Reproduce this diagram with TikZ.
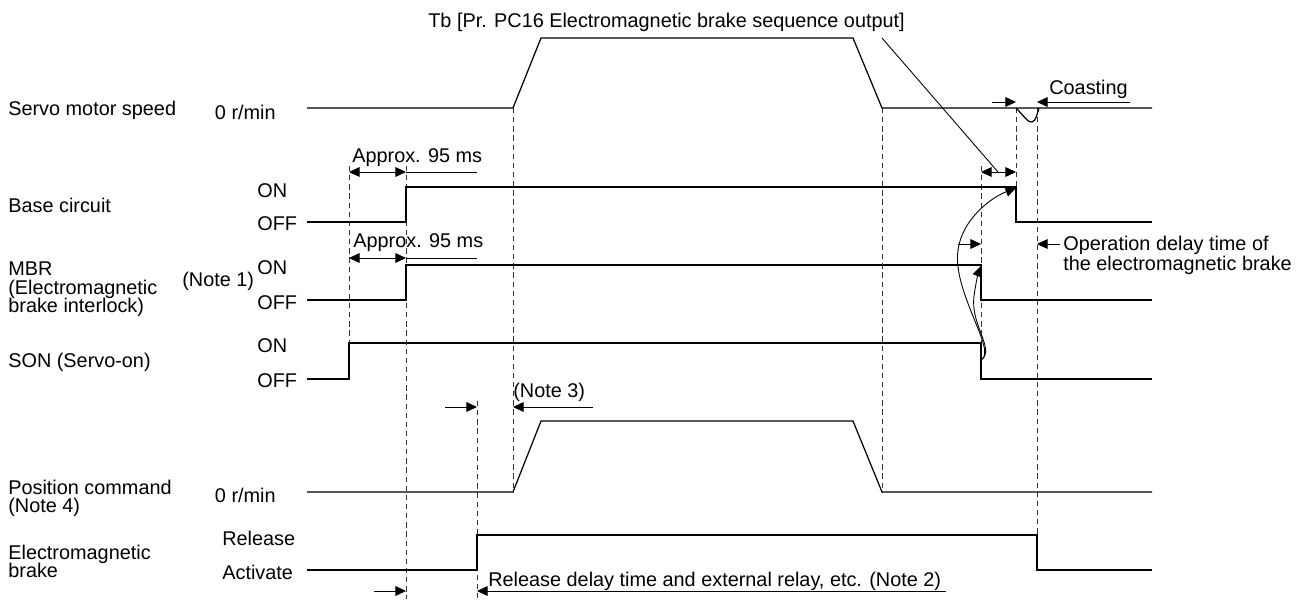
\documentclass[tikz,border=0pt]{standalone}
\usepackage{fontspec}
\setmainfont{Liberation Sans}
\usetikzlibrary{arrows.meta, positioning}

\begin{document}
\begin{tikzpicture}[
  x=0.02cm, y=-0.02cm,
  font=\fontsize{11.3}{12}\selectfont,
  lbl/.style={inner sep=0pt, anchor=base west},
  sig/.style={line width=0.7pt, line join=miter},
  guide/.style={line width=0.55pt, black!80, dash pattern=on 3pt off 2.2pt},
  dim/.style={line width=0.5pt, -{Triangle[length=6pt,width=5.5pt]}},
  dimboth/.style={line width=0.5pt,
    {Triangle[length=6pt,width=5.5pt]}-{Triangle[length=6pt,width=5.5pt]}}
]
  \useasboundingbox (0,0) rectangle (1306,599);

  % Row labels
  \node[lbl] (tb) at (428,27) {Tb [Pr. PC16 Electromagnetic brake sequence output]};
  \node[lbl] (speed) at (8,115) {Servo motor speed};
  \node[lbl, anchor=base east] (speed0) at (276,119) {0 r/min};
  \node[lbl] (base) at (8,212) {Base circuit};
  \node[lbl] (baseon) at (257,197) {ON};
  \node[lbl] (baseoff) at (257,230) {OFF};
  \node[lbl] (mbr1) at (8,275) {MBR};
  \node[lbl] (mbr2) at (8,294) {(Electromagnetic};
  \node[lbl] (mbr3) at (8,312) {brake interlock)};
  \node[lbl] (note1) at (182,286) {(Note 1)};
  \node[lbl] (mbron) at (257,274) {ON};
  \node[lbl] (mbroff) at (257,309) {OFF};
  \node[lbl] (son) at (8,367) {SON (Servo-on)};
  \node[lbl] (sonon) at (257,352) {ON};
  \node[lbl] (sonoff) at (257,387) {OFF};
  \node[lbl] (pos1) at (8,494) {Position command};
  \node[lbl] (pos2) at (8,512) {(Note 4)};
  \node[lbl, anchor=base east] (pos0) at (276,502) {0 r/min};
  \node[lbl] (brk1) at (8,559) {Electromagnetic};
  \node[lbl] (brk2) at (8,577) {brake};
  \node[lbl] (rel) at (222,545) {Release};
  \node[lbl] (act) at (222,579) {Activate};

  % Guide lines
  \draw[guide] (349,166) -- (349,343);
  \draw[guide] (406,166) -- (406,599);
  \draw[guide] (477,401) -- (477,599);
  \draw[guide] (513,108) -- (513,492);
  \draw[guide] (882,108) -- (882,492);
  \draw[guide] (981,166) -- (981,379);
  \draw[guide] (1016,108) -- (1016,187);
  \draw[guide] (1037,108) -- (1037,535);

  % Signals
  \draw[sig] (307,108) -- (513,108) -- (541,38) -- (853,38) -- (882,108) -- (1152,108);
  \draw[sig] (1016,108) .. controls (1024,116) and (1028,123) .. (1032,122)
    .. controls (1036,121) and (1037,114) .. (1039,108);
  \draw[sig] (307,222) -- (406,222) -- (406,187) -- (1016,187) -- (1016,222) -- (1152,222);
  \draw[sig] (307,300) -- (406,300) -- (406,265) -- (981,265) -- (981,300) -- (1152,300);
  \draw[sig] (307,379) -- (349,379) -- (349,343) -- (981,343) -- (981,379) -- (1152,379);
  \draw[sig] (307,492) -- (513,492) -- (541,421) -- (853,421) -- (882,492) -- (1152,492);
  \draw[sig] (307,570) -- (477,570) -- (477,535) -- (1037,535) -- (1037,570) -- (1152,570);

  % Time spans
  \node[lbl] (ap1) at (352,162) {Approx. 95 ms};
  \draw[dimboth] (349,172) -- (406,172);
  \draw[line width=0.5pt] (406,172) -- (477,172);
  \node[lbl] (ap2) at (353,247) {Approx. 95 ms};
  \draw[dimboth] (349,258) -- (406,258);
  \draw[line width=0.5pt] (406,258) -- (477,258);

  \draw[dimboth] (981,172) -- (1016,172);
  \draw[line width=0.5pt] (882,38) -- (998,172);

  \node[lbl] (coast) at (1049,94) {Coasting};
  \draw[dim] (992,102) -- (1016,102);
  \draw[dim] (1130,102) -- (1037,102);

  \node[lbl] (opd1) at (1063,250) {Operation delay time of};
  \node[lbl] (opd2) at (1063,270) {the electromagnetic brake};
  \draw[dim] (958,244) -- (981,244);
  \draw[dim] (1060,244) -- (1037,244);

  \node[lbl] (note3) at (513,397) {(Note 3)};
  \draw[dim] (445,407) -- (477,407);
  \draw[dim] (593,407) -- (513,407);

  \node[lbl] (reld) at (488,586) {Release delay time and external relay, etc. (Note 2)};
  \draw[dim] (374,591) -- (406,591);
  \draw[dim] (946,591) -- (477,591);

  % SON off triggers
  \draw[dim] (981,360) .. controls (998,352) and (952,292) .. (958,250)
    .. controls (962,220) and (990,198) .. (1016,188);
  \draw[dim] (981,360) .. controls (996,350) and (970,325) .. (974,296)
    .. controls (976,282) and (978,274) .. (981,266);
\end{tikzpicture}
\end{document}
